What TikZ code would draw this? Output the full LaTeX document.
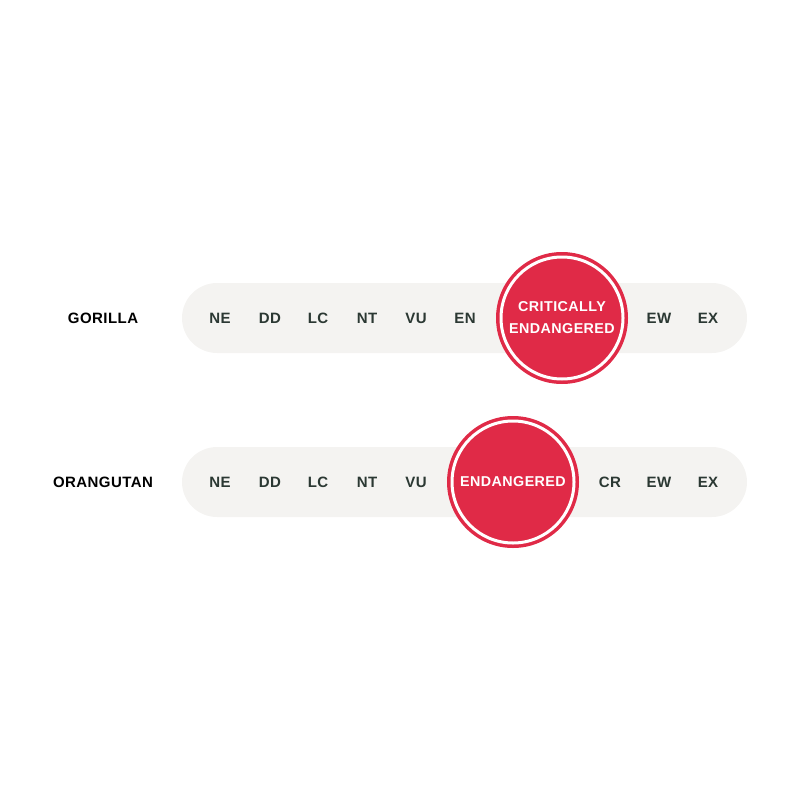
\documentclass[tikz,border=0pt]{standalone}
\usepackage{fontspec}
\setmainfont{Liberation Sans}[LetterSpace=3]
\usepackage{tikz}

\definecolor{statusred}{HTML}{E02A47}
\definecolor{bargray}{HTML}{F4F3F1}
\definecolor{labeltext}{HTML}{2B3833}

\tikzset{
  code/.style={font=\fontsize{15}{17}\selectfont\bfseries, text=labeltext, inner sep=0pt},
  species/.style={font=\fontsize{15}{17}\selectfont\bfseries, text=black, inner sep=0pt},
  badge/.style={circle, fill=statusred, draw=white, line width=3pt, minimum size=122pt, inner sep=0pt,
                font=\fontsize{14.3}{22}\selectfont\bfseries, text=white, align=center}
}

\begin{document}
\begin{tikzpicture}[x=1pt,y=-1pt]
        \useasboundingbox (0,0) rectangle (800,800);

        % Gorilla.
        \node[species] (gorilla) at (103,318.5) {GORILLA};
        \fill[bargray,rounded corners=35] (182,283) rectangle (747,353);
        \node[code] (g-ne) at (220,318.5) {NE};
        \node[code] (g-dd) at (270,318.5) {DD};
        \node[code] (g-lc) at (318,318.5) {LC};
        \node[code] (g-nt) at (367,318.5) {NT};
        \node[code] (g-vu) at (416,318.5) {VU};
        \node[code] (g-en) at (465,318.5) {EN};
        \fill[statusred] (562,318) circle (66);
        \node[badge] (g-cr) at (562,318) {CRITICALLY\\ENDANGERED};
        \node[code] (g-ew) at (659,318.5) {EW};
        \node[code] (g-ex) at (708,318.5) {EX};

        % Orangutan.
        \node[species] (orangutan) at (103,482.5) {ORANGUTAN};
        \fill[bargray,rounded corners=35] (182,447) rectangle (747,517);
        \node[code] (o-ne) at (220,482.5) {NE};
        \node[code] (o-dd) at (270,482.5) {DD};
        \node[code] (o-lc) at (318,482.5) {LC};
        \node[code] (o-nt) at (367,482.5) {NT};
        \node[code] (o-vu) at (416,482.5) {VU};
        \fill[statusred] (513,482) circle (66);
        \node[badge] (o-en) at (513,482) {\raisebox{-1pt}{ENDANGERED}};
        \node[code] (o-cr) at (610,482.5) {CR};
        \node[code] (o-ew) at (659,482.5) {EW};
        \node[code] (o-ex) at (708,482.5) {EX};
    \end{tikzpicture}
\end{document}
